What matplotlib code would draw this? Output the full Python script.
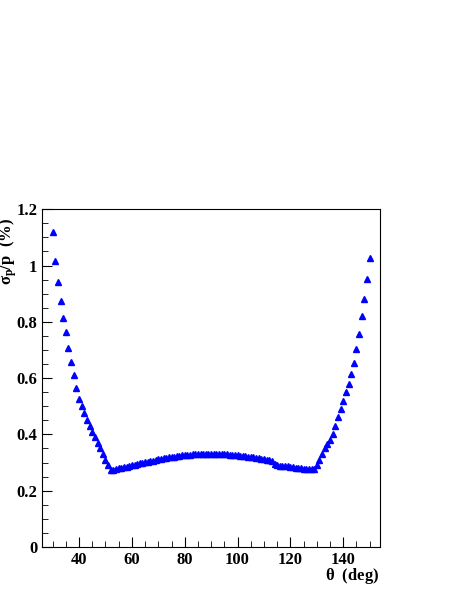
import numpy as np
import matplotlib.pyplot as plt
from matplotlib.ticker import MultipleLocator

theta = np.arange(30, 151)
sigma = [
    1.12, 1.015, 0.94, 0.875, 0.815, 0.762, 0.708, 0.656, 0.61, 0.566,
    0.525, 0.5, 0.475, 0.45, 0.43, 0.41, 0.39, 0.37, 0.35, 0.33,
    0.31, 0.29, 0.272,
    0.275, 0.277, 0.279, 0.281, 0.283, 0.285, 0.288, 0.29, 0.293, 0.295,
    0.297, 0.299, 0.301, 0.303, 0.305, 0.307, 0.309, 0.311, 0.313, 0.315,
    0.317, 0.318, 0.319, 0.321, 0.322, 0.323, 0.325, 0.326, 0.327, 0.328,
    0.329, 0.33, 0.33, 0.331, 0.331, 0.331, 0.331, 0.331, 0.331, 0.33,
    0.33, 0.33, 0.329, 0.329, 0.328, 0.327, 0.326, 0.325, 0.324, 0.323,
    0.322, 0.32, 0.319, 0.318, 0.316, 0.315, 0.313, 0.311, 0.31, 0.308,
    0.304, 0.295, 0.291, 0.289, 0.288, 0.287, 0.286, 0.285, 0.284, 0.282,
    0.28, 0.279, 0.278, 0.277, 0.277, 0.276, 0.276,
    0.29, 0.31, 0.33, 0.35, 0.365, 0.38, 0.40, 0.43, 0.46, 0.49,
    0.518, 0.55, 0.579, 0.613, 0.652, 0.703, 0.755, 0.82, 0.88, 0.953, 1.025,
]

plt.rcParams['font.family'] = ['Liberation Serif', 'DejaVu Serif']
plt.rcParams['font.weight'] = 'bold'
plt.rcParams['mathtext.fontset'] = 'custom'
plt.rcParams['mathtext.rm'] = 'Liberation Serif:bold'
plt.rcParams['mathtext.it'] = 'Liberation Serif:bold'

fig = plt.figure(figsize=(4.57, 5.91), dpi=100)
ax = fig.add_axes([0.092, 0.0745, 0.740, 0.5715])
ax.plot(theta, sigma, linestyle='none', marker='^', color='#0000ff', markersize=5)

ax.set_xlim(26, 154)
ax.set_ylim(0, 1.2)
ax.xaxis.set_major_locator(MultipleLocator(20))
ax.xaxis.set_minor_locator(MultipleLocator(5))
ax.yaxis.set_minor_locator(MultipleLocator(0.05))
ax.tick_params(which='both', direction='in', labelsize=12, top=False, right=False)
ax.tick_params(which='major', length=7)
ax.tick_params(which='minor', length=4)
ax.set_yticks([0, 0.2, 0.4, 0.6, 0.8, 1, 1.2])
ax.set_yticklabels(['0', '0.2', '0.4', '0.6', '0.8', '1', '1.2'])

fig.text(0.83, 0.008, r'$\mathrm{\theta}$  (deg)', ha='right', va='bottom', fontsize=12, fontweight='bold')
fig.text(-0.005, 0.575, r'$\sigma_p$/p  (%)', rotation=90, ha='left', va='center', fontsize=12, fontweight='bold')

fig.savefig('out.png', dpi=100)
